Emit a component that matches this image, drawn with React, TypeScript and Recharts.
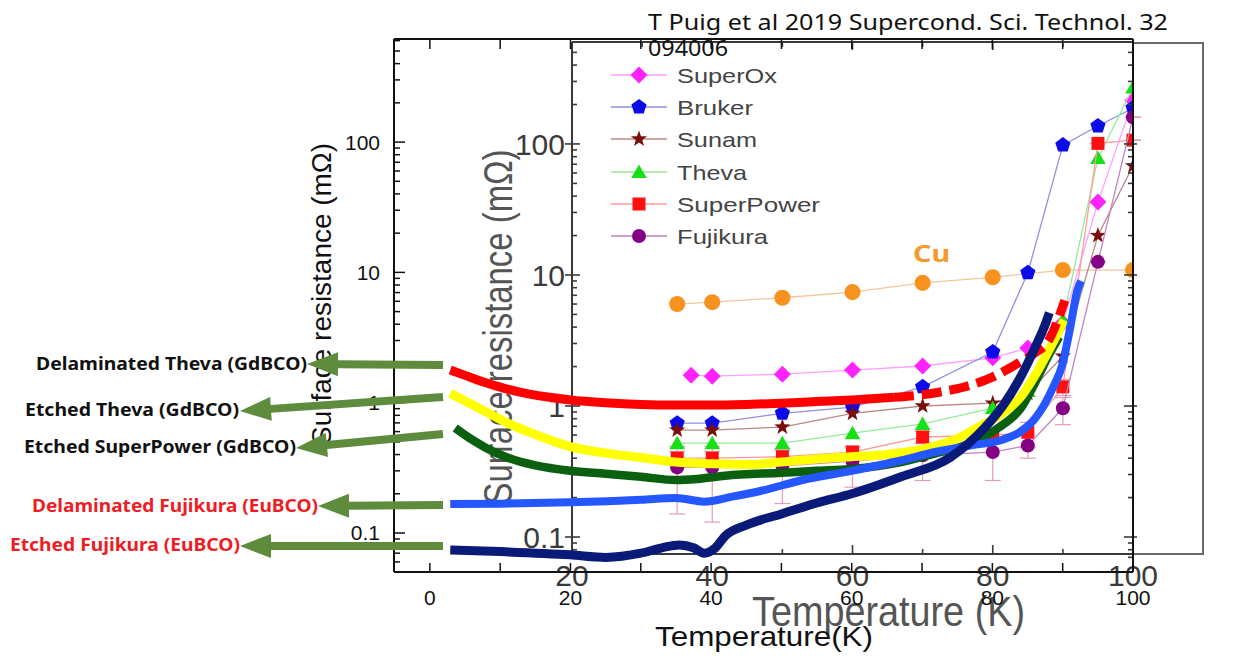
import React from 'react';
import { ComposedChart, Scatter, XAxis, YAxis, ErrorBar } from 'recharts';

const W = 1242;
const H = 664;
const FONT = '"Liberation Sans", Arial, Helvetica, sans-serif';
const KFONT = '"Noto Sans", "DejaVu Sans", sans-serif';
const INNER = '#3a3a3a';
const OUTER = '#111111';

// ---- inset: commercial tapes, Rs (mΩ) vs T (K)
const tapeTemps = [35, 40, 50, 60, 70, 80, 85, 90, 95, 100];
const superOxTemps = [37, 40, 50, 60, 70, 80, 85, 90, 95, 100];
const superOxRs = [1.72, 1.69, 1.75, 1.88, 2.02, 2.33, 2.77, 4.3, 36, 215];
const brukerRs = [0.74, 0.74, 0.88, 0.98, 1.4, 2.58, 10.4, 98, 137, 188];
const sunamRs = [0.655, 0.655, 0.69, 0.88, 1.0, 1.05, 1.25, 2.4, 20, 68];
const thevaRs = [0.52, 0.52, 0.52, 0.62, 0.73, 0.965, 1.3, 4.5, 78, 270];
const superPowerRs = [0.4, 0.4, 0.41, 0.445, 0.58, 0.6, 0.63, 1.4, 101, 107];
const superPowerErr = [[0.05, 0.05], [0.05, 0.05], [0.05, 0.05], [0.05, 0.05], [0.06, 0.06], [0.08, 0.08], [0.15, 0.12], [0.2, 0.2], [0, 0], [0, 0]];
const fujikuraRs = [0.34, 0.34, 0.35, 0.38, 0.42, 0.445, 0.5, 0.96, 12.6, 160];
const fujikuraErr = [[0.19, 0.15], [0.21, 0.15], [0.17, 0.12], [0.14, 0.1], [0.15, 0.1], [0.175, 0.12], [0.1, 0.1], [0.24, 0.2], [0, 0], [0, 0]];
const cuTemps = [35, 40, 50, 60, 70, 80, 90, 100];
const cuRs = [6.0, 6.2, 6.7, 7.4, 8.7, 9.6, 10.9, 10.9];

// ---- measured tapes (thick curves)
const delamThevaT = [2.9, 5, 8, 11, 14, 17, 20, 25, 30, 35, 40, 45, 50, 55, 60, 66];
const delamThevaRs = [1.78, 1.62, 1.42, 1.27, 1.17, 1.1, 1.05, 1.0, 0.97, 0.96, 0.96, 0.97, 0.99, 1.02, 1.05, 1.1];
const delamThevaTailT = [66, 70, 73, 76, 80, 83.6, 86, 88, 89.5, 90.3];
const delamThevaTailRs = [1.1, 1.15, 1.22, 1.32, 1.57, 2.0, 2.4, 3.0, 4.6, 6.1];
const etchThevaT = [2.9, 5, 8, 11, 15, 20, 25, 30, 35, 40, 45, 50, 55, 60, 65, 70, 75, 78, 81, 84, 86, 88, 89.5, 90.2];
const etchThevaRs = [1.18, 1.03, 0.85, 0.7, 0.57, 0.46, 0.41, 0.38, 0.35, 0.34, 0.335, 0.35, 0.37, 0.385, 0.4, 0.44, 0.53, 0.65, 0.8, 1.1, 1.6, 2.5, 3.6, 4.3];
const etchSPT = [3.6, 6, 8, 11, 15, 20, 25, 30, 35, 38, 42, 50, 55, 60, 67, 72, 77, 81, 84, 86, 88, 89.5];
const etchSPRs = [0.64, 0.52, 0.45, 0.38, 0.33, 0.3, 0.285, 0.27, 0.255, 0.26, 0.275, 0.29, 0.3, 0.31, 0.35, 0.41, 0.49, 0.65, 0.9, 1.4, 2.3, 3.2];
const delamFujiT = [2.9, 10, 20, 30, 35, 39, 43, 47, 53, 60, 67, 72, 77, 81.4, 84, 86.1, 88.6, 90, 91, 92.1, 92.6];
const delamFujiRs = [0.167, 0.168, 0.172, 0.18, 0.186, 0.174, 0.19, 0.21, 0.255, 0.3, 0.36, 0.42, 0.47, 0.52, 0.6, 0.76, 1.3, 2.0, 3.6, 7.3, 8.6];
const etchFujiT = [2.9, 10, 20, 25, 30, 33, 35.5, 37.5, 39, 40.5, 42, 45, 50, 55, 60, 67, 74, 79, 81.5, 83.8, 86.1, 87.6, 88.1];
const etchFujiRs = [0.074, 0.072, 0.068, 0.065, 0.07, 0.077, 0.081, 0.077, 0.07, 0.076, 0.095, 0.115, 0.14, 0.17, 0.2, 0.27, 0.38, 0.65, 0.95, 1.5, 2.67, 4.1, 4.9];

// ---- ticks
const innerXTicks = [20, 30, 40, 50, 60, 70, 80, 90, 100];
const outerXTicks = [0, 10, 20, 30, 40, 50, 60, 70, 80, 90, 100];
const logDecades = [0.01, 0.1, 1, 10, 100];
const logMultiples = [1, 2, 3, 4, 5, 6, 7, 8, 9];

const logTicks = (lo: number, hi: number) => {
  const out: number[] = [];
  logDecades.forEach((d) =>
    logMultiples.forEach((m) => {
      const v = +(d * m).toPrecision(3);
      if (v >= lo && v <= hi) out.push(v);
    })
  );
  return out;
};
const isDecade = (v: number) => Math.abs(Math.log10(v) - Math.round(Math.log10(v))) < 1e-9;
const logLabel = (v: number) => (v < 1 ? v.toFixed(1) : String(v));

const innerYDomain: [number, number] = [0.0742, 600];
const outerYDomain: [number, number] = [0.0502, 618];

const rows = (ts: number[], rs: number[], err?: number[][]) =>
  ts.map((t, i) => ({ t, r: rs[i], err: err ? err[i] : undefined }));

type Kind = 'diamond' | 'pentagon' | 'star' | 'triangle' | 'square' | 'circle';

const polyPts = (cx: number, cy: number, rad: number[], n: number, rot: number) =>
  Array.from({ length: n }, (_, i) => {
    const a = rot + (i * 2 * Math.PI) / n;
    const r = rad[i % rad.length];
    return `${cx + r * Math.cos(a)},${cy + r * Math.sin(a)}`;
  }).join(' ');

function Marker({ kind, cx, cy, color, size = 1 }: { kind: Kind; cx: number; cy: number; color: string; size?: number }) {
  if (cx == null || cy == null) return <g />;
  const s = size;
  switch (kind) {
    case 'diamond':
      return <polygon points={polyPts(cx, cy, [8.5 * s], 4, -Math.PI / 2)} fill={color} />;
    case 'pentagon':
      return <polygon points={polyPts(cx, cy, [8 * s], 5, -Math.PI / 2)} fill={color} />;
    case 'star':
      return <polygon points={polyPts(cx, cy, [8.5 * s, 3.4 * s], 10, -Math.PI / 2)} fill={color} />;
    case 'triangle':
      return <polygon points={polyPts(cx, cy + 1.5, [9 * s], 3, -Math.PI / 2)} fill={color} />;
    case 'square':
      return <rect x={cx - 6.5 * s} y={cy - 6.5 * s} width={13 * s} height={13 * s} fill={color} />;
    default:
      return <circle cx={cx} cy={cy} r={7 * s} fill={color} />;
  }
}

const tapeSeries = [
  { name: 'SuperOx', data: rows(superOxTemps, superOxRs), kind: 'diamond' as Kind, color: '#ff22ff', line: '#ffa0ff', lw: 100 },
  { name: 'Bruker', data: rows(tapeTemps, brukerRs), kind: 'pentagon' as Kind, color: '#0b0be8', line: '#9090dc', lw: 76 },
  { name: 'Sunam', data: rows(tapeTemps, sunamRs), kind: 'star' as Kind, color: '#7a0c0c', line: '#b88888', lw: 80 },
  { name: 'Theva', data: rows(tapeTemps, thevaRs), kind: 'triangle' as Kind, color: '#16e016', line: '#96ea96', lw: 70 },
  { name: 'SuperPower', data: rows(tapeTemps, superPowerRs, superPowerErr), kind: 'square' as Kind, color: '#ff1010', line: '#ff9a9a', lw: 143 },
  { name: 'Fujikura', data: rows(tapeTemps, fujikuraRs, fujikuraErr), kind: 'circle' as Kind, color: '#840084', line: '#c084c0', lw: 91 },
];

// drawn bottom to top
const thickCurves = [
  { name: 'Etched SuperPower', data: rows(etchSPT, etchSPRs), color: '#0b600f', width: 8.5, dash: undefined },
  { name: 'Etched Theva', data: rows(etchThevaT, etchThevaRs), color: '#ffff00', width: 9, dash: undefined },
  { name: 'Delaminated Theva', data: rows(delamThevaT, delamThevaRs), color: '#ff0000', width: 9, dash: undefined },
  { name: 'Delaminated Theva tail', data: rows(delamThevaTailT, delamThevaTailRs), color: '#ff0000', width: 9, dash: '20 8' },
  { name: 'Delaminated Fujikura', data: rows(delamFujiT, delamFujiRs), color: '#2457ff', width: 8, dash: undefined },
  { name: 'Etched Fujikura', data: rows(etchFujiT, etchFujiRs), color: '#0a1a78', width: 9, dash: undefined },
];

const annotations = [
  { text: 'Delaminated Theva (GdBCO)', x: 36, y: 370, w: 271, color: '#111', tail: [443, 365], tip: [307, 364] },
  { text: 'Etched Theva (GdBCO)', x: 25, y: 416, w: 214, color: '#111', tail: [443, 397], tip: [240, 411] },
  { text: 'Etched SuperPower (GdBCO)', x: 24, y: 453, w: 272, color: '#111', tail: [443, 434], tip: [296, 448] },
  { text: 'Delaminated Fujikura (EuBCO)', x: 32, y: 512, w: 286, color: '#ee1c24', tail: [443, 505], tip: [318, 506] },
  { text: 'Etched Fujikura (EuBCO)', x: 10, y: 551, w: 230, color: '#ee1c24', tail: [443, 546], tip: [240, 546] },
];

// ---- tick renderers (tickSize 0 / tickMargin 0 so x,y sit on the axis line)
const InnerLeftTick = ({ x, y, payload }: any) => {
  const major = isDecade(payload.value);
  return (
    <g>
      <line x1={major ? x - 7 : x} y1={y} x2={x + (major ? 8 : 5)} y2={y} stroke={INNER} strokeWidth={1.6} />
      {major && (
        <text x={x - 7} y={y + 11} textAnchor="end" fontSize={30} fill={INNER} fontFamily={FONT}>
          {logLabel(payload.value)}
        </text>
      )}
    </g>
  );
};
const InnerRightTick = ({ x, y, payload }: any) => {
  const major = isDecade(payload.value);
  return <line x1={x - (major ? 9 : 5)} y1={y} x2={major ? x + 4 : x} y2={y} stroke={INNER} strokeWidth={1.6} />;
};
const InnerBottomTick = ({ x, y, payload }: any) => {
  const major = payload.value % 20 === 0;
  return (
    <g>
      <line x1={x} y1={y} x2={x} y2={y - (major ? 9 : 5)} stroke={INNER} strokeWidth={1.6} />
      {major && (
        <text x={x} y={y + 32} textAnchor="middle" fontSize={30} fill={INNER} fontFamily={FONT}>
          {payload.value}
        </text>
      )}
    </g>
  );
};
const InnerTopTick = ({ x, y, payload }: any) => {
  const major = payload.value % 20 === 0;
  return <line x1={x} y1={y} x2={x} y2={y + (major ? 8 : 5)} stroke={INNER} strokeWidth={1.6} />;
};
const OuterLeftTick = ({ x, y, payload }: any) => {
  const major = isDecade(payload.value);
  return (
    <g>
      <line x1={x} y1={y} x2={x + (major ? 11 : 6)} y2={y} stroke={OUTER} strokeWidth={1.5} />
      {major && (
        <text x={x - 14} y={y + 7.5} textAnchor="end" fontSize={21} fill={OUTER} fontFamily={FONT}>
          {logLabel(payload.value)}
        </text>
      )}
    </g>
  );
};
const OuterBottomTick = ({ x, y, payload }: any) => (
  <g>
    <line x1={x} y1={y} x2={x} y2={y - 9} stroke={OUTER} strokeWidth={1.5} />
    {payload.value % 20 === 0 && (
      <text x={x} y={y + 33} textAnchor="middle" fontSize={21} fill={OUTER} fontFamily={FONT}>
        {payload.value}
      </text>
    )}
  </g>
);
const OuterTopTick = ({ x, y }: any) => <line x1={x} y1={y} x2={x} y2={y + 10} stroke={OUTER} strokeWidth={1.5} />;

function InsetChart() {
  return (
    <ComposedChart width={W} height={H} margin={{ top: 32, right: 99, bottom: 70, left: 512 }}>
      <XAxis xAxisId="b" dataKey="t" type="number" domain={[20, 100]} allowDataOverflow ticks={innerXTicks} interval={0}
        height={40} tickSize={0} tickMargin={0} tick={InnerBottomTick} axisLine={{ stroke: INNER, strokeWidth: 2 }} tickLine={false} />
      <XAxis xAxisId="top" orientation="top" dataKey="t" type="number" domain={[20, 100]} allowDataOverflow ticks={innerXTicks} interval={0}
        height={10} tickSize={0} tickMargin={0} tick={InnerTopTick} axisLine={{ stroke: INNER, strokeWidth: 2 }} tickLine={false} />
      <YAxis yAxisId="l" dataKey="r" type="number" scale="log" domain={innerYDomain} allowDataOverflow ticks={logTicks(0.07, 600)} interval={0}
        width={60} tickSize={0} tickMargin={0} tick={InnerLeftTick} axisLine={{ stroke: INNER, strokeWidth: 2 }} tickLine={false} />
      <YAxis yAxisId="r" orientation="right" dataKey="r" type="number" scale="log" domain={innerYDomain} allowDataOverflow ticks={logTicks(0.07, 600)} interval={0}
        width={10} tickSize={0} tickMargin={0} tick={InnerRightTick} axisLine={{ stroke: INNER, strokeWidth: 2 }} tickLine={false} />
      <Scatter name="Cu" xAxisId="b" yAxisId="l" data={rows(cuTemps, cuRs)} fill="#f7921e" isAnimationActive={false}
        line={{ stroke: '#f2c69a', strokeWidth: 1.3 }}
        shape={(p: any) => <Marker kind="circle" cx={p.cx} cy={p.cy} color="#f7921e" size={1.15} />} />
      {tapeSeries.map((s) => (
        <Scatter key={s.name} name={s.name} xAxisId="b" yAxisId="l" data={s.data} fill={s.color} isAnimationActive={false}
          line={{ stroke: s.line, strokeWidth: 1.3 }}
          shape={(p: any) => <Marker kind={s.kind} cx={p.cx} cy={p.cy} color={s.color} />}>
          {(s.name === 'SuperPower' || s.name === 'Fujikura') && (
            <ErrorBar dataKey="err" direction="y" width={8} stroke="#e69ab4" strokeWidth={1.2} isAnimationActive={false} />
          )}
        </Scatter>
      ))}
    </ComposedChart>
  );
}

function OuterChart() {
  return (
    <ComposedChart width={W} height={H} margin={{ top: 29, right: 104, bottom: 52, left: 334 }}>
      <XAxis xAxisId="b" dataKey="t" type="number" domain={[-5.1, 100]} allowDataOverflow ticks={outerXTicks} interval={0}
        height={40} tickSize={0} tickMargin={0} tick={OuterBottomTick} axisLine={{ stroke: OUTER, strokeWidth: 2 }} tickLine={false} />
      <XAxis xAxisId="top" orientation="top" dataKey="t" type="number" domain={[-5.1, 100]} allowDataOverflow ticks={outerXTicks} interval={0}
        height={10} tickSize={0} tickMargin={0} tick={OuterTopTick} axisLine={{ stroke: OUTER, strokeWidth: 2 }} tickLine={false} />
      <YAxis yAxisId="l" dataKey="r" type="number" scale="log" domain={outerYDomain} allowDataOverflow ticks={logTicks(0.05, 618)} interval={0}
        width={60} tickSize={0} tickMargin={0} tick={OuterLeftTick} axisLine={{ stroke: OUTER, strokeWidth: 2 }} tickLine={false} />
      <YAxis yAxisId="r" orientation="right" dataKey="r" type="number" scale="log" domain={outerYDomain} allowDataOverflow
        width={5} tick={false} axisLine={{ stroke: OUTER, strokeWidth: 2 }} tickLine={false} />
      {thickCurves.map((c) => (
        <Scatter key={c.name} name={c.name} xAxisId="b" yAxisId="l" data={c.data} isAnimationActive={false}
          lineJointType="monotoneX"
          line={{ stroke: c.color, strokeWidth: c.width, strokeDasharray: c.dash, strokeLinejoin: 'round' }}
          shape={() => <g />} />
      ))}
    </ComposedChart>
  );
}

function Arrow({ tail, tip }: { tail: number[]; tip: number[] }) {
  const [x0, y0] = tail;
  const [x1, y1] = tip;
  const L = Math.hypot(x1 - x0, y1 - y0);
  const ux = (x1 - x0) / L;
  const uy = (y1 - y0) / L;
  const nx = -uy;
  const ny = ux;
  const headLen = 31;
  const headHalf = 12;
  const shaft = 4;
  const bx = x1 - ux * headLen;
  const by = y1 - uy * headLen;
  const pts = [
    [x0 + nx * shaft, y0 + ny * shaft],
    [bx + nx * shaft, by + ny * shaft],
    [bx + nx * headHalf, by + ny * headHalf],
    [x1, y1],
    [bx - nx * headHalf, by - ny * headHalf],
    [bx - nx * shaft, by - ny * shaft],
    [x0 - nx * shaft, y0 - ny * shaft],
  ];
  return <polygon points={pts.map((p) => p.join(',')).join(' ')} fill="#5e8b3c" />;
}

const legendRows = [75, 107, 139, 172, 204, 236];

export default function App() {
  return (
    <div style={{ position: 'absolute', left: 0, top: 0, width: W, height: H, background: '#fff', overflow: 'hidden', fontFamily: FONT }}>
      <div style={{ position: 'absolute', left: 0, top: 0 }}>
        <InsetChart />
      </div>
      <svg width={W} height={H} style={{ position: 'absolute', left: 0, top: 0 }}>
        {/* inset frame */}
        <polyline points="1133,43 1203,43 1203,554 1133,554" fill="none" stroke="#6a6a6a" strokeWidth={2} />
        {/* inset titles */}
        <text transform="translate(512,327) rotate(-90)" textAnchor="middle" fontSize={40} fill="#555" fontFamily={FONT}
          textLength={355} lengthAdjust="spacingAndGlyphs">Surface resistance (mΩ)</text>
        <text x={752} y={626} fontSize={42} fill="#555" fontFamily={FONT} textLength={273} lengthAdjust="spacingAndGlyphs">Temperature (K)</text>
        <text x={913} y={262} fontSize={24} fontWeight="bold" fill="#f39a2a" fontFamily={KFONT} textLength={37} lengthAdjust="spacingAndGlyphs">Cu</text>
        {/* inset legend */}
        {tapeSeries.map((s, i) => (
          <g key={s.name}>
            <line x1={611} y1={legendRows[i]} x2={667} y2={legendRows[i]} stroke={s.line} strokeWidth={1.5} />
            <Marker kind={s.kind} cx={639} cy={legendRows[i]} color={s.color} />
            <text x={677} y={legendRows[i] + 8} fontSize={21} fill="#444" fontFamily={FONT} textLength={s.lw} lengthAdjust="spacingAndGlyphs">{s.name}</text>
          </g>
        ))}
      </svg>
      <div style={{ position: 'absolute', left: 0, top: 0 }}>
        <OuterChart />
      </div>
      <svg width={W} height={H} style={{ position: 'absolute', left: 0, top: 0 }}>
        <text x={648} y={30} fontSize={21} fill="#111" fontFamily={KFONT} textLength={520} lengthAdjust="spacingAndGlyphs">
          T Puig et al 2019 Supercond. Sci. Technol. 32
        </text>
        <text x={648} y={56} fontSize={21} fill="#111" fontFamily={KFONT} textLength={80} lengthAdjust="spacingAndGlyphs">094006</text>
        <text transform="translate(331,294) rotate(-90)" textAnchor="middle" fontSize={27} fill="#111" fontFamily={FONT}
          textLength={302} lengthAdjust="spacingAndGlyphs">Surface resistance (mΩ)</text>
        <text x={655} y={646} fontSize={28} fill="#111" fontFamily={FONT} textLength={218} lengthAdjust="spacingAndGlyphs">Temperature(K)</text>
        {annotations.map((a) => (
          <g key={a.text}>
            <Arrow tail={a.tail} tip={a.tip} />
            <text x={a.x} y={a.y} fontSize={17} fontWeight="bold" fill={a.color} fontFamily={KFONT} textLength={a.w} lengthAdjust="spacingAndGlyphs">
              {a.text}
            </text>
          </g>
        ))}
      </svg>
    </div>
  );
}
